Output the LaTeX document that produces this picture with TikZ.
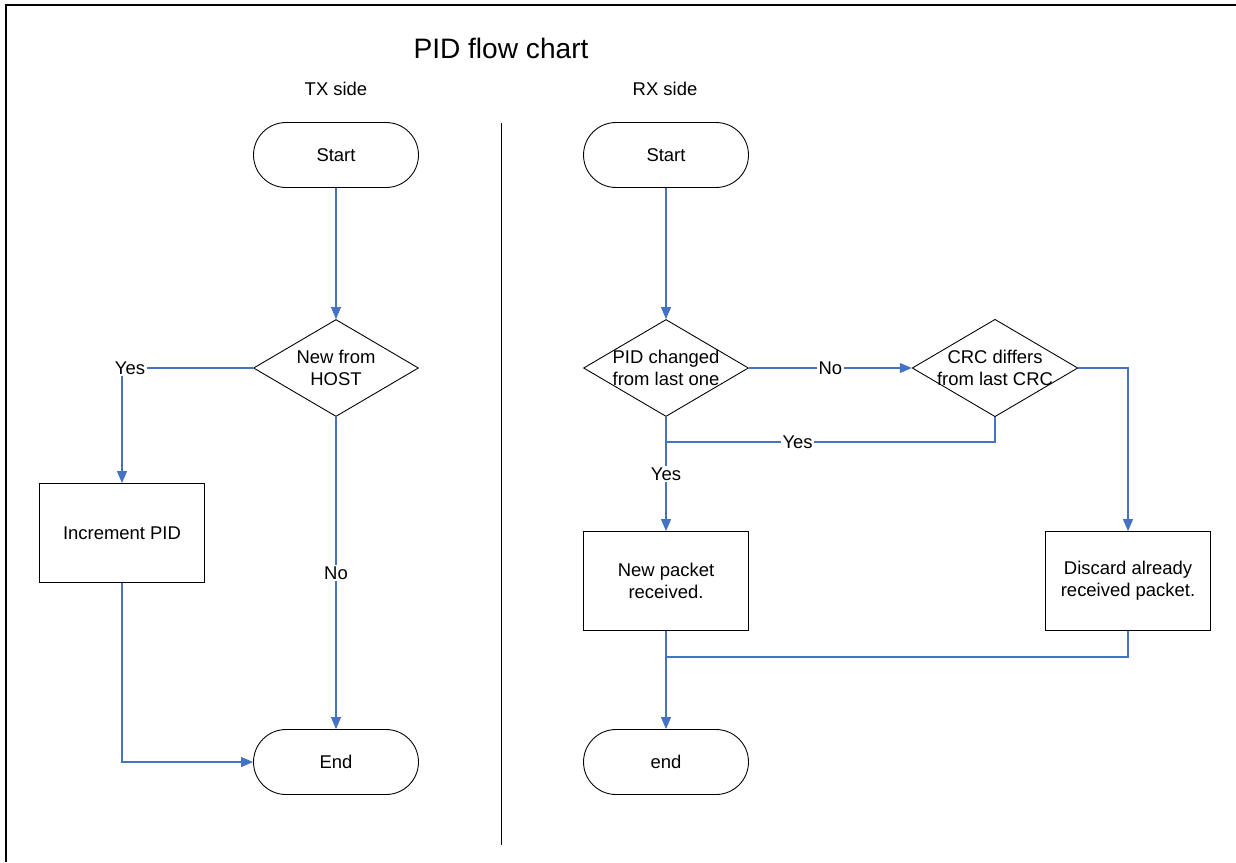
\documentclass[tikz,border=0pt]{standalone}
\usepackage{fontspec}
\setmainfont{Liberation Sans}
\usetikzlibrary{shapes.geometric,arrows.meta}
\definecolor{linkblue}{RGB}{68,114,196}

\begin{document}
\begin{tikzpicture}[x=0.02cm,y=-0.02cm,font=\fontsize{10.5}{12.5}\selectfont]
    % `terminal' is used for the Start/End boxes.
    % `decision' is used for the diamonds, `process' for the plain boxes.
    % `link' and `flow' are used for the blue connectors.
    \tikzstyle{terminal} = [draw,rectangle,rounded corners=0.65cm,minimum width=3.3cm,minimum height=1.3cm,line width=0.5pt]
    \tikzstyle{decision} = [draw,diamond,aspect=1.7,align=center,inner xsep=-3pt,inner ysep=0pt,minimum width=3.3cm,minimum height=1.94cm,line width=0.5pt]
    \tikzstyle{process} = [draw,rectangle,align=center,minimum width=3.3cm,minimum height=1.98cm,line width=0.5pt]
    \tikzstyle{link} = [draw=linkblue,line width=0.6pt]
    \tikzstyle{flow} = [-{Triangle[length=0.24cm,width=0.2cm]}]
    \tikzstyle{lbl} = [fill=white,inner sep=1pt]
    %
    \useasboundingbox (0,0) rectangle (1236,862);
    % Draw frame and divider.
    \draw[line width=1.1pt] (1236,5) -- (6,5) -- (6,862);
    \coordinate (divtop) at (501,123);
    \coordinate (divbot) at (501,845);
    \draw[line width=0.5pt] (divtop) -- (divbot);
    %
    \node (title) at (501,48) {\fontsize{16}{19}\selectfont PID flow chart};
    \node (txside) at (336,89) {TX side};
    \node (rxside) at (665,89) {RX side};
    % TX side.
    \node[terminal] (txstart) at (336,155) {Start};
    \node[decision] (txnew) at (336,368) {New from\\HOST};
    \node[process] (txinc) at (122,533) {Increment PID};
    \node[terminal] (txend) at (336,762) {End};
    \coordinate (txyes) at (122,368);
    % RX side.
    \node[terminal] (rxstart) at (666,155) {Start};
    \node[decision] (rxpid) at (666,368) {PID changed\\from last one};
    \node[decision] (rxcrc) at (995,368) {CRC differs\\from last CRC};
    \node[process] (rxnew) at (666,581) {New packet\\received.};
    \node[process] (rxdisc) at (1128,581) {Discard already\\received packet.};
    \node[terminal] (rxend) at (666,762) {end};
    \coordinate (crcjoin) at (666,442);
    \coordinate (endjoin) at (666,657);
    % Draw lines.
    \draw[link,flow] (txstart) -- (txnew);
    \draw[link,flow] (txnew.west) -- node[lbl,pos=1,xshift=0.16cm] {Yes} (txyes) -- (txinc);
    \draw[link,flow] (txinc.south) |- (txend.west);
    \draw[link,flow] (txnew) -- node[lbl] {No} (txend);
    \draw[link,flow] (rxstart) -- (rxpid);
    \draw[link,flow] (rxpid) -- node[lbl] {No} (rxcrc);
    \draw[link] (rxcrc.south) |- node[lbl,pos=0.8] {Yes} (crcjoin);
    \draw[link,flow] (rxpid) -- node[lbl] {Yes} (rxnew);
    \draw[link,flow] (rxcrc.east) -| (rxdisc.north);
    \draw[link,flow] (rxnew) -- (rxend);
    \draw[link] (rxdisc.south) |- (endjoin);
\end{tikzpicture}
\end{document}
